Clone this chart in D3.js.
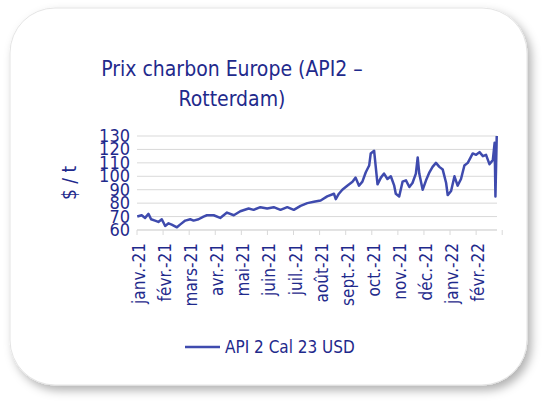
<!DOCTYPE html><html><head><meta charset="utf-8">
<script src="https://cdn.jsdelivr.net/npm/d3@7"></script>
<style>body{margin:0;background:#fff}</style></head><body>
<svg id="c" width="548" height="411"></svg>
<script>
const monthLabels=["janv.-21","févr.-21","mars-21","avr.-21","mai-21","juin-21","juil.-21","août-21","sept.-21","oct.-21","nov.-21","déc.-21","janv.-22","févr.-22"];
const yTicks=[60,70,80,90,100,110,120,130];
const monthPos=[0.01,.18,.31,.44,.54,.69,.82,.95,1.08,1.21,1.33,1.53,1.65,1.85,2.04,2.17,2.36,2.55,2.68,2.94,3.19,3.45,3.71,3.96,4.28,4.47,4.73,4.99,5.24,5.50,5.76,6.01,6.27,6.53,6.78,7.04,7.29,7.55,7.62,7.74,7.87,8.06,8.26,8.38,8.51,8.64,8.77,8.90,8.96,9.09,9.22,9.35,9.47,9.60,9.73,9.86,9.92,10.05,10.18,10.31,10.44,10.56,10.69,10.76,10.82,10.95,11.08,11.21,11.33,11.46,11.59,11.72,11.85,11.91,12.04,12.17,12.29,12.42,12.55,12.68,12.87,13.0,13.13,13.26,13.38,13.51,13.64,13.71,13.74,13.79];
const prices=[70,71,69,72,68,67,66,68,63,65,64,62,64,67,68,67,68,70,71,71,69,73,71,74,76,75,77,76,77,75,77,75,78,80,81,82,85,87,83,87,90,93,96,99,93,96,103,108,117,119,94,99,102,98,100,93,87,85,96,97,92,95,102,114,102,90,97,103,107,110,107,105,95,86,89,100,93,98,108,110,117,116,118,115,116,109,112,125,85,130];
const series="API 2 Cal 23 USD";
const col="#3F4BAE", txt="#1F2A8C", font="'Liberation Sans Narrow', 'DejaVu Sans Condensed', 'Open Sans', sans-serif";
const svg=d3.select("#c");
const defs=svg.append("defs");
const f=defs.append("filter").attr("id","sh").attr("x","-10%").attr("y","-10%").attr("width","130%").attr("height","130%");
f.append("feDropShadow").attr("dx",4).attr("dy",5).attr("stdDeviation",5).attr("flood-color","#000").attr("flood-opacity",0.3);
svg.append("rect").attr("x",10).attr("y",8).attr("width",517).attr("height",377).attr("rx",45).attr("fill","#fff").attr("stroke","#e4e4e4").attr("filter","url(#sh)");
svg.append("text").attr("x",232).attr("y",76).attr("text-anchor","middle").attr("fill",txt).style("font",`21px ${font}`).text("Prix charbon Europe (API2 –");
svg.append("text").attr("x",232).attr("y",106).attr("text-anchor","middle").attr("fill",txt).style("font",`21px ${font}`).text("Rotterdam)");
const x=d3.scaleLinear().domain([0,13.8]).range([137,497]);
const y=d3.scaleLinear().domain([60,130]).range([230,136]);
svg.append("g").selectAll("line").data(yTicks).join("line").attr("x1",137).attr("x2",497).attr("y1",d=>y(d)).attr("y2",d=>y(d)).attr("stroke","#d9d9d9");
svg.append("g").selectAll("text").data(yTicks).join("text").attr("x",130).attr("y",d=>y(d)+6).attr("text-anchor","end").attr("fill",txt).style("font",`18px ${font}`).text(d=>d);
svg.append("text").attr("transform","translate(76,183) rotate(-90)").attr("text-anchor","middle").attr("fill",txt).style("font",`19px ${font}`).text("$ / t");
svg.append("line").attr("x1",137).attr("x2",497).attr("y1",230).attr("y2",230).attr("stroke","#d9d9d9");
svg.append("g").selectAll("line").data(d3.range(monthLabels.length+1)).join("line").attr("x1",d=>x(d)).attr("x2",d=>x(d)).attr("y1",230).attr("y2",235).attr("stroke","#d9d9d9");
svg.append("g").selectAll("text").data(monthLabels).join("text").attr("transform",(d,i)=>`translate(${x(i)+8},243) rotate(-90)`).attr("text-anchor","end").attr("fill",txt).style("font",`17px ${font}`).text(d=>d);
const pts=monthPos.map((m,i)=>[m,prices[i]]);
svg.append("path").datum(pts).attr("fill","none").attr("stroke",col).attr("stroke-width",2.5).attr("stroke-linejoin","round").attr("d",d3.line().x(d=>x(d[0])).y(d=>y(d[1])));
svg.append("line").attr("x1",185).attr("x2",220).attr("y1",347).attr("y2",347).attr("stroke",col).attr("stroke-width",2.5);
svg.append("text").attr("x",225).attr("y",353).attr("fill",txt).style("font",`17px ${font}`).text(series);
</script></body></html>
